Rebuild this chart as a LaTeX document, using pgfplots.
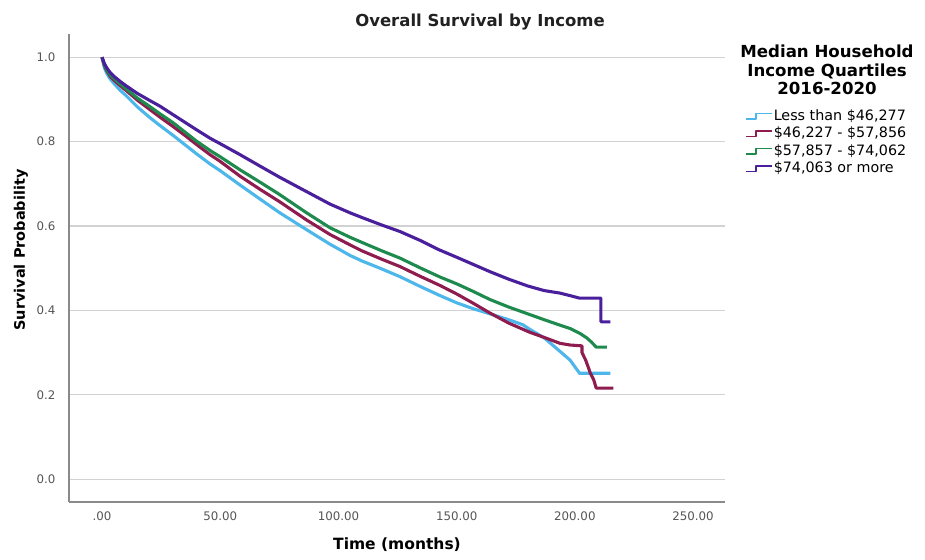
\documentclass[border=0pt]{standalone}
\usepackage{pgfplots}
\pgfplotsset{compat=1.18}
\usepackage{fontspec}
\setmainfont{DejaVu Sans}
\definecolor{cC}{HTML}{4DB6EA}
\definecolor{cM}{HTML}{8E1C4E}
\definecolor{cG}{HTML}{1F8A4E}
\definecolor{cP}{HTML}{4A1F9C}
\definecolor{gridc}{HTML}{D2D2D2}
\definecolor{axc}{HTML}{8A8A8A}
\definecolor{tickc}{HTML}{555555}
\begin{document}
\begin{tikzpicture}[x=1pt,y=1pt]
\useasboundingbox (-69,-57) rectangle (856,502);
\begin{axis}[
  at={(0,0)}, anchor=south west,
  scale only axis, width=656pt, height=468pt,
  xmin=-13.96, xmax=263.5, ymin=-0.054, ymax=1.055,
  axis x line*=bottom, axis y line*=left,
  axis line style={axc, line width=1.5pt},
  xtick={0,50,100,150,200,250},
  xticklabels={.00,50.00,100.00,150.00,200.00,250.00},
  ytick={0,0.2,0.4,0.6,0.8,1},
  yticklabels={0.0,0.2,0.4,0.6,0.8,1.0},
  major tick length=0pt,
  ymajorgrids, grid style={gridc, line width=1.2pt},
  tick label style={font=\fontsize{11.8}{13}\selectfont, text=tickc},
  xticklabel style={yshift=-6pt},
  yticklabel style={xshift=-10pt},
  clip=false,
  legend style={at={(1.026,0.846)}, anchor=north west, draw=none, fill=none,
    font=\fontsize{14.3}{17}\selectfont, row sep=1.5pt,
    nodes={inner sep=1pt, text height=11pt, text depth=3pt}},
  legend cell align=left,
  legend image code/.code={\draw[#1, line width=1.5pt] (0pt,-2.5pt) -- (10pt,-2.5pt) -- (10pt,3pt) -- (26pt,3pt);},
  every axis plot/.append style={line width=3.1pt, line join=round},
]
\addplot[cC] coordinates {
(0,1.0) (1,0.975) (2,0.962) (3.4,0.949) (5,0.938) (7.6,0.922) (10,0.910) (15,0.882) (20,0.858) (24.5,0.838) (30,0.815) (35,0.793) (40,0.771) (45.7,0.747) (50,0.731) (58.4,0.697) (66.8,0.664) (75,0.632) (86.6,0.591) (96.4,0.557) (105,0.530) (110,0.517) (118,0.499) (126,0.480) (134.5,0.457) (143,0.435) (150,0.418) (157,0.404) (164,0.392) (172,0.378) (178,0.366) (181,0.355) (187,0.335) (193.7,0.303) (198,0.282) (202,0.251) (215,0.251)
};
\addlegendentry{Less than \$46,277}
\addplot[cM] coordinates {
(0,1.0) (1,0.980) (2,0.968) (3.4,0.955) (5,0.946) (7.6,0.933) (10,0.922) (15,0.898) (20,0.877) (24.5,0.858) (30,0.836) (35,0.815) (40,0.793) (45.7,0.769) (50,0.753) (58.4,0.718) (66.8,0.687) (75,0.658) (86.6,0.614) (96.4,0.580) (105,0.555) (110,0.541) (118,0.522) (126,0.504) (134.5,0.481) (143,0.459) (150,0.439) (157,0.417) (164,0.394) (172,0.370) (181,0.348) (187,0.336) (193.7,0.322) (198,0.318) (203,0.316) (203,0.300) (204.5,0.283) (205.5,0.268) (206.5,0.252) (208,0.235) (209,0.216) (216.3,0.216)
};
\addlegendentry{\$46,227 - \$57,856}
\addplot[cG] coordinates {
(0,1.0) (1,0.982) (2,0.970) (3.4,0.958) (5,0.950) (7.6,0.937) (10,0.926) (15,0.903) (20,0.884) (24.5,0.866) (30,0.845) (35,0.823) (40,0.801) (45.7,0.779) (50,0.764) (58.4,0.733) (66.8,0.704) (75,0.675) (86.6,0.631) (96.4,0.596) (105,0.573) (110,0.561) (118,0.542) (126,0.524) (134.5,0.501) (143,0.479) (150,0.463) (157,0.445) (164,0.426) (172,0.408) (180,0.392) (187,0.378) (193.7,0.365) (198,0.357) (202,0.346) (205,0.335) (207,0.325) (209,0.313) (213.5,0.313)
};
\addlegendentry{\$57,857 - \$74,062}
\addplot[cP] coordinates {
(0,1.000) (1,0.985) (2,0.975) (3.4,0.964) (5,0.955) (7.6,0.943) (10,0.933) (15,0.914) (20,0.898) (24.5,0.884) (30,0.864) (35,0.846) (40,0.828) (45.7,0.808) (50,0.795) (58.4,0.769) (66.8,0.742) (75,0.716) (85,0.686) (96.4,0.652) (105,0.631) (110,0.620) (118,0.603) (126,0.587) (134.5,0.566) (142,0.545) (150,0.526) (157,0.509) (164,0.492) (172,0.474) (180,0.458) (187,0.447) (193.7,0.441) (198,0.435) (202,0.429) (211,0.429) (211,0.373) (215,0.373)
};
\addlegendentry{\$74,063 or more}
\end{axis}
\node[font=\bfseries\fontsize{16.5}{19}\selectfont, text=black!87] at (411,480) {Overall Survival by Income};
\node[font=\bfseries\fontsize{15.5}{18}\selectfont] at (328,-43) {Time (months)};
\node[rotate=90, font=\bfseries\fontsize{14.5}{17}\selectfont] at (-48,252) {Survival Probability};
\node[align=center, anchor=north, inner sep=0pt, font=\bfseries\fontsize{16.6}{18.3}\selectfont] at (758,457) {Median Household\\Income Quartiles\\2016-2020};
\end{tikzpicture}
\end{document}
